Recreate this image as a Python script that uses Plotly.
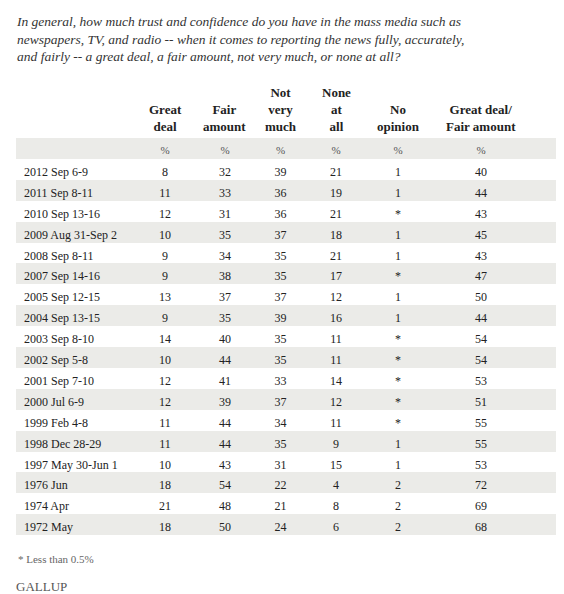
import plotly.graph_objects as go

W, H = 564, 594

dates = ["2012 Sep 6-9", "2011 Sep 8-11", "2010 Sep 13-16", "2009 Aug 31-Sep 2",
         "2008 Sep 8-11", "2007 Sep 14-16", "2005 Sep 12-15", "2004 Sep 13-15",
         "2003 Sep 8-10", "2002 Sep 5-8", "2001 Sep 7-10", "2000 Jul 6-9",
         "1999 Feb 4-8", "1998 Dec 28-29", "1997 May 30-Jun 1", "1976 Jun",
         "1974 Apr", "1972 May"]
great_deal = ["8", "11", "12", "10", "9", "9", "13", "9", "14", "10", "12", "12", "11", "11", "10", "18", "21", "18"]
fair_amount = ["32", "33", "31", "35", "34", "38", "37", "35", "40", "44", "41", "39", "44", "44", "43", "54", "48", "50"]
not_very_much = ["39", "36", "36", "37", "35", "35", "37", "39", "35", "35", "33", "37", "34", "35", "31", "22", "21", "24"]
none_at_all = ["21", "19", "21", "18", "21", "17", "12", "16", "11", "11", "14", "12", "11", "9", "15", "4", "8", "6"]
no_opinion = ["1", "1", "*", "1", "1", "*", "1", "1", "*", "*", "*", "*", "*", "1", "1", "2", "2", "2"]
great_fair = ["40", "44", "43", "45", "43", "47", "50", "44", "54", "54", "53", "51", "55", "55", "53", "72", "69", "68"]

headers = ["Great<br>deal", "Fair<br>amount", "Not<br>very<br>much",
           "None<br>at<br>all", "No<br>opinion", "Great deal/<br>Fair amount"]

SERIF = "Liberation Serif, DejaVu Serif, serif"
SHADE = "#ebebe8"
cols = [dates]
for c in [great_deal, fair_amount, not_very_much, none_at_all, no_opinion, great_fair]:
    cols.append(c)
cols.append([""] * len(dates))

n = len(dates)
row_fill = ["white" if i % 2 == 0 else SHADE for i in range(n)]

widths = [117, 64, 56, 55, 56, 68, 98, 34]
x0, x1 = 8, 556
top = 130

fig = go.Figure(go.Table(
    domain=dict(x=[x0 / W, x1 / W], y=[0.0, 1 - top / H]),
    columnwidth=widths,
    header=dict(
        values=[""] + ["%"] * 6 + [""],
        fill_color=SHADE, line_color=SHADE, line_width=0,
        align=["left"] + ["center"] * 7,
        font=dict(family=SERIF, size=11, color="#555"),
        height=20.9,
    ),
    cells=dict(
        values=cols,
        fill_color=[row_fill] * 8,
        line_color=[row_fill] * 8, line_width=0,
        align=["left"] + ["center"] * 7,
        font=dict(family=SERIF, size=12, color="#222"),
        height=20.9,
    ),
))

# column headers as centred annotations, bottom aligned
edges = [x0]
for w in widths:
    edges.append(edges[-1] + w)
for i, h in enumerate(headers):
    cx = (edges[i + 1] + edges[i + 2]) / 2
    fig.add_annotation(text="<b>" + h + "</b>", x=cx / W, y=1 - 128 / H, xref="paper", yref="paper",
                       xanchor="center", yanchor="bottom", align="center", showarrow=False,
                       font=dict(family=SERIF, size=13, color="#222"))

title = ("In general, how much trust and confidence do you have in the mass media such as<br>"
         "newspapers, TV, and radio -- when it comes to reporting the news fully, accurately,<br>"
         "and fairly -- a great deal, a fair amount, not very much, or none at all?")
fig.add_annotation(text="<i>" + title + "</i>", x=6 / W, y=1 - 4 / H, xref="paper", yref="paper",
                   xanchor="left", yanchor="top", align="left", showarrow=False,
                   font=dict(family=SERIF, size=13.5, color="#333"))
fig.add_annotation(text="* Less than 0.5%", x=8 / W, y=1 - 551 / H, xref="paper", yref="paper",
                   xanchor="left", yanchor="middle", showarrow=False,
                   font=dict(family=SERIF, size=11, color="#666"))
fig.add_annotation(text="GALLUP", x=6 / W, y=1 - 578 / H, xref="paper", yref="paper",
                   xanchor="left", yanchor="middle", showarrow=False,
                   font=dict(family=SERIF, size=13, color="#555"))

fig.update_layout(width=W, height=H, margin=dict(l=0, r=0, t=0, b=0),
                  paper_bgcolor="white", plot_bgcolor="white")
fig.write_html("out.html")
